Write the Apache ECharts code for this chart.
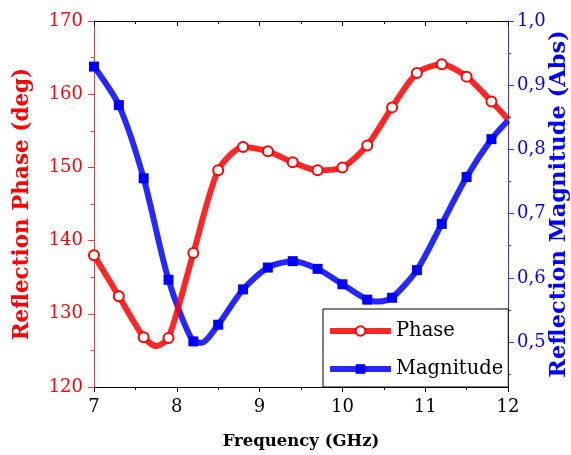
<!DOCTYPE html>
<html>
<head>
<meta charset="utf-8">
<script src="https://cdn.jsdelivr.net/npm/echarts@6/dist/echarts.min.js"></script>
<style>
	body{margin:0;padding:0;background:#fff;}
	#table-contains{width:571px;height:455px;}
</style>
</head>
<body>
<div id="table-contains"></div>
<script>
// 相位曲线 (deg)
var phaseFreq=[7.0,7.3,7.6,7.75,7.9,8.2,8.5,8.8,9.1,9.4,9.7,10.0,10.3,10.6,10.9,11.2,11.5,11.8,12.0];
var phaseValue=[138.0,132.4,126.8,125.6,126.7,138.3,149.6,152.8,152.2,150.7,149.6,150.0,153.0,158.2,162.9,164.1,162.4,159.0,156.6];
var phaseNoMark=[7.75,12.0];
// 幅度曲线 (Abs)
var magFreq=[7.0,7.3,7.6,7.9,8.2,8.3,8.5,8.8,9.1,9.4,9.7,10.0,10.3,10.45,10.6,10.9,11.2,11.5,11.8,12.0];
var magValue=[0.929,0.869,0.755,0.597,0.501,0.499,0.527,0.582,0.616,0.626,0.614,0.590,0.566,0.563,0.569,0.612,0.684,0.757,0.816,0.845];
var magNoMark=[8.3,10.45,12.0];
// 右轴刻度
var magLabels=[0.5,0.6,0.7,0.8,0.9,1.0];
var magMinorTicks=[0.45,0.55,0.65,0.75,0.85,0.95];

var fontName='DejaVu Serif';

function buildData(xs,ys,noMark){
	var arr=[];
	for(var i=0;i<xs.length;i++){
		var item={value:[xs[i],ys[i]]};
		if(noMark.indexOf(xs[i])>=0){
			item.symbol='none';
		}
		arr.push(item);
	}
	return arr;
}

var myChart = echarts.init(document.getElementById("table-contains"));
var option = {
	animation:false,
	grid : {
		left:94,
		right:63,
		top:21,
		bottom:68,
		outerBoundsMode:'none'
	},
	legend: {
		orient : 'vertical',
		left : 323,
		top : 309,
		itemWidth : 61,
		itemHeight : 12,
		itemGap : 18,
		padding : [12,5,8,4],
		backgroundColor : '#fff',
		borderColor : '#000',
		borderWidth : 1,
		borderRadius : 0,
		lineStyle : {width:6},
		textStyle : {fontFamily:fontName,fontSize:19.5,color:'#000'},
		data:['Phase','Magnitude']
	},
	xAxis : [
		{
			type : 'value',
			min : 7,
			max : 12,
			interval : 1,
			name : 'Frequency (GHz)',
			nameLocation : 'middle',
			nameGap : 46,
			nameTextStyle : {fontFamily:fontName,fontSize:16.5,fontWeight:'bold',color:'#000'},
			axisLine : {lineStyle:{color:'#000',width:1}},
			axisTick : {length:5,lineStyle:{color:'#000'}},
			minorTick : {show:true,splitNumber:2,length:3,lineStyle:{color:'#000'}},
			axisLabel : {fontFamily:fontName,fontSize:18,color:'#000',margin:11},
			splitLine : {show:false}
		},
		{
			type : 'value',
			position : 'top',
			min : 7,
			max : 12,
			interval : 1,
			axisLine : {lineStyle:{color:'#000',width:1}},
			axisTick : {inside:true,length:5,lineStyle:{color:'#000'}},
			minorTick : {show:true,splitNumber:2,length:3,lineStyle:{color:'#000'}},
			axisLabel : {show:false},
			splitLine : {show:false}
		}
	],
	yAxis : [
		{
			type : 'value',
			position : 'left',
			min : 120,
			max : 170,
			interval : 10,
			name : 'Reflection Phase (deg)',
			nameLocation : 'middle',
			nameGap : 61,
			nameTextStyle : {fontFamily:fontName,fontSize:21.5,fontWeight:'bold',color:'#ff0000'},
			axisLine : {show:true,lineStyle:{color:'#ff3333',width:1}},
			axisTick : {length:6,lineStyle:{color:'#ff3333'}},
			minorTick : {show:true,splitNumber:2,length:3,lineStyle:{color:'#ff3333'}},
			axisLabel : {fontFamily:fontName,fontSize:18,color:'#ff0000',margin:11},
			splitLine : {show:false}
		},
		{
			type : 'value',
			position : 'right',
			min : 0.43,
			max : 1.0,
			name : 'Reflection Magnitude (Abs)',
			nameLocation : 'middle',
			nameRotate : 90,
			nameGap : 40,
			nameMoveOverlap : false,
			nameTextStyle : {fontFamily:fontName,fontSize:22.5,fontWeight:'bold',color:'#0000ff'},
			axisLine : {show:true,lineStyle:{color:'#3333ff',width:1}},
			axisTick : {length:6,customValues:magLabels,lineStyle:{color:'#3333ff'}},
			axisLabel : {
				fontFamily:fontName,fontSize:18,color:'#0000ff',margin:9,
				customValues:magLabels,
				formatter:function(v){return v.toFixed(1).replace('.',',');}
			},
			splitLine : {show:false}
		},
		{
			// 右轴的次刻度
			type : 'value',
			position : 'right',
			min : 0.43,
			max : 1.0,
			axisLine : {show:false},
			axisTick : {show:true,length:3,customValues:magMinorTicks,lineStyle:{color:'#3333ff'}},
			axisLabel : {show:false},
			splitLine : {show:false}
		}
	],
	series : [
		{
			name:'Phase',
			type:'line',
			xAxisIndex:0,
			yAxisIndex:0,
			smooth:0.25,
			z:3,
			symbol:'emptyCircle',
			symbolSize:10,
			itemStyle:{color:'#ff0000',borderWidth:1.5},
			lineStyle:{color:'#ff0000',width:6,opacity:0.85},
			data:buildData(phaseFreq,phaseValue,phaseNoMark)
		},
		{
			name:'Magnitude',
			type:'line',
			xAxisIndex:0,
			yAxisIndex:1,
			smooth:0.25,
			z:2,
			symbol:'rect',
			symbolSize:10,
			itemStyle:{color:'#0000ff'},
			lineStyle:{color:'#0000ff',width:6,opacity:0.85},
			data:buildData(magFreq,magValue,magNoMark)
		}
	]
};
myChart.setOption(option);
</script>
</body>
</html>
